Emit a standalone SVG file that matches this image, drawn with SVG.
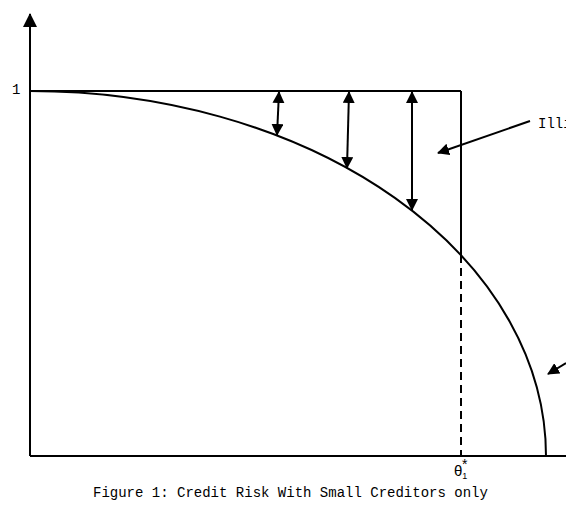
<svg xmlns="http://www.w3.org/2000/svg" width="566" height="531" viewBox="0 0 566 531">
<style>
.ln{stroke:#000;stroke-width:2;fill:none}
.txt{font-family:"Liberation Mono","DejaVu Sans Mono",monospace;font-size:14px;fill:#000}
</style>
<defs>
<marker id="ah" viewBox="0 0 12 12" refX="11" refY="6" markerWidth="12" markerHeight="12" markerUnits="userSpaceOnUse" orient="auto-start-reverse">
<path d="M0,0 L12,6 L0,12 z" fill="#000"/>
</marker>
<marker id="ahBig" viewBox="0 0 14 14" refX="13" refY="7" markerWidth="14" markerHeight="14" markerUnits="userSpaceOnUse" orient="auto">
<path d="M0,0 L14,7 L0,14 z" fill="#000"/>
</marker>
</defs>
<rect width="566" height="531" fill="#fff"/>
<g id="axes">
<line class="ln" x1="30" y1="456" x2="30" y2="14" marker-end="url(#ahBig)"/>
<line class="ln" x1="30" y1="456" x2="566" y2="456"/>
</g>
<g id="frame">
<line class="ln" x1="30" y1="91" x2="461" y2="91"/>
<line class="ln" x1="461" y1="91" x2="461" y2="255"/>
<line class="ln" x1="461" y1="255" x2="461" y2="456" stroke-dasharray="8,5"/>
</g>
<g id="curve">
<path class="ln" d="M30,91 A516,365 0 0 1 546,456"/>
</g>
<g id="connectors">
<line class="ln" x1="279" y1="92" x2="277" y2="135" marker-start="url(#ah)" marker-end="url(#ah)"/>
<line class="ln" x1="349" y1="92" x2="347" y2="168" marker-start="url(#ah)" marker-end="url(#ah)"/>
<line class="ln" x1="412" y1="92" x2="412" y2="210" marker-start="url(#ah)" marker-end="url(#ah)"/>
<line class="ln" x1="530" y1="121" x2="438" y2="153" marker-end="url(#ah)"/>
<line class="ln" x1="566" y1="363" x2="548" y2="374" marker-end="url(#ah)"/>
</g>
<g id="labels">
<text class="txt" x="12" y="94">1</text>
<text class="txt" x="538" y="128">Illi</text>
<text x="454" y="476" style="font-family:'Liberation Sans',Arial,sans-serif;font-size:15px">θ<tspan font-size="9" dy="3">1</tspan></text>
<text x="462" y="469" style="font-family:'Liberation Sans',Arial,sans-serif;font-size:14px">*</text>
<text class="txt" x="93" y="497">Figure 1: Credit Risk With Small Creditors only</text>
</g>
</svg>
